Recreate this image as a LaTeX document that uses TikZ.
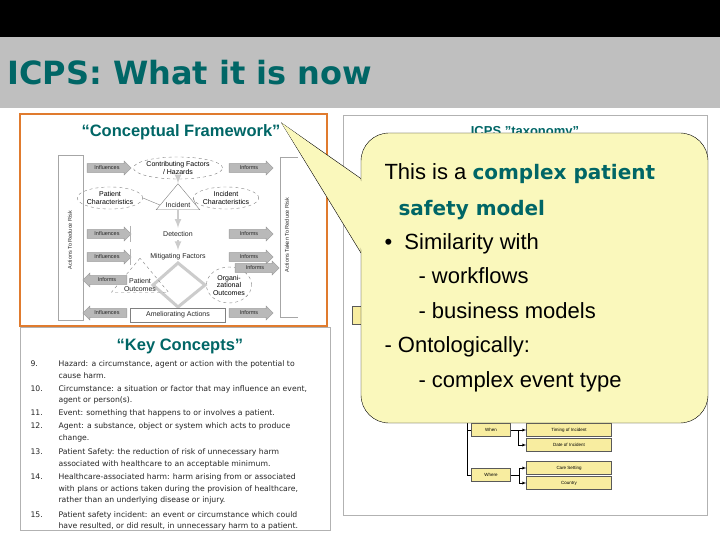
\documentclass[tikz,border=0pt]{standalone}
\usepackage{fontspec}
\setmainfont{Liberation Sans}
\newfontfamily\dvs{DejaVu Sans}
\usetikzlibrary{shapes.geometric,shapes.arrows}
\definecolor{teal1}{HTML}{006666}
\definecolor{orng}{HTML}{E07B2E}
\definecolor{callout}{HTML}{FAF8BC}
\definecolor{tbox}{HTML}{F8EDA0}
\tikzset{
 barrow/.style={single arrow,fill=gray!55,draw=gray!80,minimum height=44pt,minimum width=14pt,single arrow head extend=2pt,inner sep=1pt,font=\fontsize{5.5}{6}\selectfont,text=gray!30!black},
 ell/.style={ellipse,draw=gray,dashed,font=\fontsize{7}{7.5}\selectfont,align=center,inner sep=0pt},
 fw/.style={font=\fontsize{7}{7.5}\selectfont,text=gray!30!black},
 kc/.style={anchor=base west,font=\dvs\fontsize{7.7}{8}\selectfont,text=black!85},
 tb/.style={draw=gray!70!black,fill=tbox,font=\fontsize{4.5}{5}\selectfont,minimum width=85pt,minimum height=13pt,inner sep=0pt},
 tbs/.style={tb,minimum width=39pt},
 ct/.style={anchor=base west,font=\fontsize{22}{24}\selectfont},
 hd/.style={font=\bfseries\fontsize{16.5}{18}\selectfont,text=teal1,inner sep=1pt},
}
\begin{document}
\begin{tikzpicture}[x=1pt,y=-1pt]
\useasboundingbox (0,0) rectangle (720,540);
\fill[white] (0,0) rectangle (720,540);
\fill[black] (0,0) rectangle (720,37);
\fill[gray!50] (0,37) rectangle (720,108);
\node[anchor=base west,text=teal1,font=\dvs\bfseries\fontsize{32}{34}\selectfont,inner sep=0pt] (title) at (7,85) {ICPS: What it is now};
% left top panel
\draw[orng,line width=2pt] (20,114) rectangle (327,326);
\node[hd] (cf) at (181,132) {“Conceptual Framework”};
\draw[gray!70] (58,155) rectangle (83,320);
\node[fw,rotate=90,font=\fontsize{5.5}{6}\selectfont] (act) at (70,240) {Actions To Reduce Risk};
\draw[gray!70] (280,157) -- (298,157) (280,157) -- (280,317) -- (298,317);
\node[fw,rotate=90,font=\fontsize{5.5}{6}\selectfont] (risk) at (287,235) {Actions Taken To Reduce Risk};
\node[ell,minimum width=72pt,minimum height=22pt] (cff) at (178,168) {Contributing Factors\\/ Hazards};
\node[ell,minimum width=58pt,minimum height=22pt] (pc) at (110,198) {Patient\\Characteristics};
\node[ell,minimum width=60pt,minimum height=22pt] (ic) at (226,198) {Incident\\Characteristics};
\node[isosceles triangle,isosceles triangle apex angle=80,shape border rotate=90,draw=gray,fw,inner sep=1pt,minimum height=26pt] (inc) at (178,205) {Incident};
\node[fw] (det) at (178,234) {Detection};
\node[fw] (mit) at (178,257) {Mitigating Factors};
\draw[gray!40,line width=3pt] (178,263) coordinate (dt) -- (205,285) coordinate (dr) -- (178,307) coordinate (db) -- (153,285) coordinate (dl) -- cycle;
\node[isosceles triangle,isosceles triangle apex angle=80,shape border rotate=90,draw=gray,dashed,fw,align=center,inner sep=0pt,minimum height=34pt] (po) at (140,285) {Patient\\Outcomes};
\node[ell,minimum width=44pt,minimum height=36pt] (oo) at (229,285) {Organi-\\zational\\Outcomes};
\node[draw=gray,fw,minimum width=95pt,minimum height=14pt] (am) at (178,315) {Ameliorating Actions};
\draw[gray!40,line width=2pt,-latex] (cff) -- (inc.north);
\draw[gray!40,line width=2pt,-latex] (inc.south) -- (det);
\draw[gray!40,line width=2pt,-latex] (det) -- (mit);
\draw[gray] (pc.east) -- (inc.west) (ic.west) -- (inc.east);
\node[barrow] (a1) at (107,168) {Influences};
\node[barrow] (a2) at (107,234) {Influences};
\node[barrow] (a3) at (107,257) {Influences};
\node[barrow,shape border rotate=180] (a4) at (107,280) {Informs};
\node[barrow,shape border rotate=180] (a5) at (107,313) {Influences};
\node[barrow] (b1) at (249,168) {Informs};
\node[barrow] (b2) at (249,234) {Informs};
\node[barrow] (b3) at (249,257) {Informs};
\node[barrow] (b4) at (255,268) {Informs};
\node[barrow] (b5) at (249,313) {Informs};
\draw[gray!60] (130,226) -- (130,242) (130,249) -- (130,265);
% key concepts panel
\draw[gray!60] (20,327) rectangle (330,530);
\node[hd] (kh) at (180,346) {“Key Concepts”};
\node[kc] (n9) at (27,366) {9.};
\node[kc] (t9) at (55,366) {Hazard: a circumstance, agent or action with the potential to};
\node[kc] (t9b) at (55,378) {cause harm.};
\node[kc] (n10) at (27,391) {10.};
\node[kc] (t10) at (55,391) {Circumstance: a situation or factor that may influence an event,};
\node[kc] (t10b) at (55,402) {agent or person(s).};
\node[kc] (n11) at (27,415) {11.};
\node[kc] (t11) at (55,415) {Event: something that happens to or involves a patient.};
\node[kc] (n12) at (27,428) {12.};
\node[kc] (t12) at (55,428) {Agent: a substance, object or system which acts to produce};
\node[kc] (t12b) at (55,440) {change.};
\node[kc] (n13) at (27,454) {13.};
\node[kc] (t13) at (55,454) {Patient Safety: the reduction of risk of unnecessary harm};
\node[kc] (t13b) at (55,466) {associated with healthcare to an acceptable minimum.};
\node[kc] (n14) at (27,479) {14.};
\node[kc] (t14) at (55,479) {Healthcare-associated harm: harm arising from or associated};
\node[kc] (t14b) at (55,491) {with plans or actions taken during the provision of healthcare,};
\node[kc] (t14c) at (55,502) {rather than an underlying disease or injury.};
\node[kc] (n15) at (27,517) {15.};
\node[kc] (t15) at (55,517) {Patient safety incident: an event or circumstance which could};
\node[kc] (t15b) at (55,528) {have resulted, or did result, in unnecessary harm to a patient.};
% right panel
\draw[gray!60,line width=1pt] (343,116) rectangle (707,515);
\node[font=\bfseries\fontsize{13}{15}\selectfont,text=teal1] (tx) at (525,132) {ICPS "taxonomy"};
\node[draw=gray!70!black,fill=tbox,minimum width=12pt,minimum height=18pt] (sb) at (358,315) {};
\node[tbs] (when) at (491,430) {When};
\node[tb] (tim) at (569,430) {Timing of Incident};
\node[tb] (date) at (569,445) {Date of Incident};
\node[tbs] (where) at (491,475) {Where};
\node[tb] (care) at (569,468) {Care Setting};
\node[tb] (ctry) at (569,483) {Country};
\coordinate (vt) at (467,418);
\draw (vt) |- (when.west) (vt) |- (where.west);
\draw[-latex] (when.east) -- (tim.west);
\draw[-latex] ([xshift=-8pt]tim.west) |- (date.west);
\draw (where.east) -- ++(8pt,0) coordinate (wj);
\draw[-latex] (wj) |- (care.west);
\draw[-latex] (wj) |- (ctry.west);
% callout
\draw[fill=callout] (363,180) -- (cf.north east) -- (361,253);
\draw[fill=callout,rounded corners=28pt] (361,133) rectangle (708,423);
\fill[callout] (362.5,182) -- (cf.north east) -- (362.5,251) -- cycle;
\node[ct] (c1) at (381,180) {This is a \textcolor{teal1}{\dvs\bfseries\fontsize{20}{22}\selectfont complex patient}};
\node[ct] (c2) at (395,215) {\textcolor{teal1}{\dvs\bfseries\fontsize{20}{22}\selectfont safety model}};
\node[ct] (c3) at (381,249) {\textbullet\ \ Similarity with};
\node[ct] (c4) at (415,283) {- workflows};
\node[ct] (c5) at (415,318) {- business models};
\node[ct] (c6) at (381,352) {- Ontologically:};
\node[ct] (c7) at (415,387) {- complex event type};
\end{tikzpicture}
\end{document}
